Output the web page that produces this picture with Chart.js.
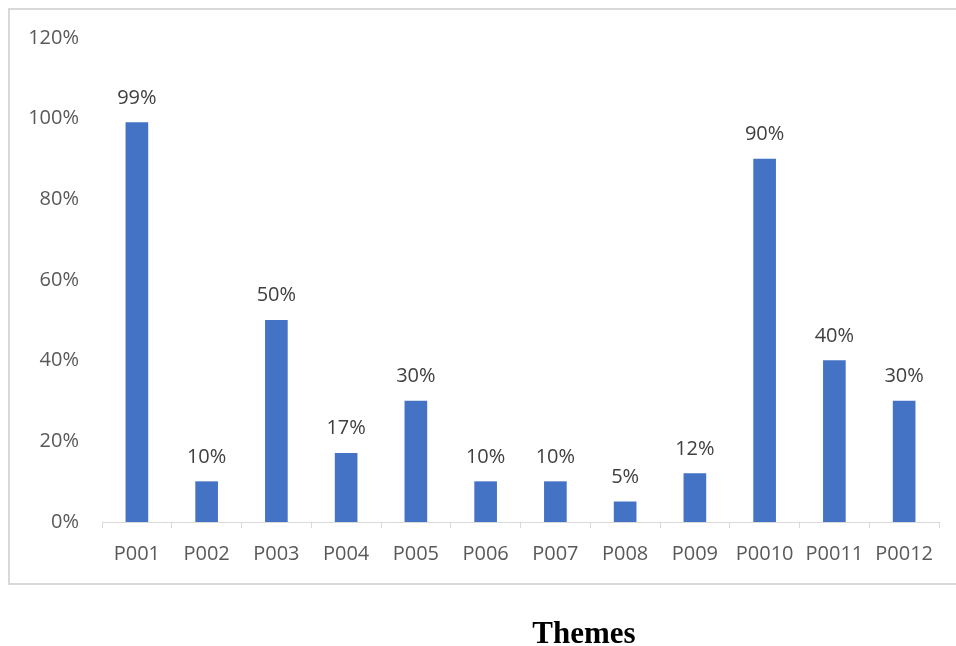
<!DOCTYPE html>
<html>
<head>
<meta charset="utf-8">
<script src="https://cdn.jsdelivr.net/npm/chart.js@4/dist/chart.umd.min.js"></script>
<style>
  html, body { margin: 0; padding: 0; background: #ffffff; }
  #wrap { width: 956px; height: 646px; }
</style>
</head>
<body>
<div id="wrap"><canvas id="chart" width="956" height="646"></canvas></div>
<script>
// Theme codes and the share (%) recorded for each
const categories = ['P001', 'P002', 'P003', 'P004', 'P005', 'P006', 'P007', 'P008', 'P009', 'P0010', 'P0011', 'P0012'];
const shares = [99, 10, 50, 17, 30, 10, 10, 5, 12, 90, 40, 30];
const yTicks = [0, 20, 40, 60, 80, 100, 120];
const axisTitle = 'Themes';

const FONT = '"Open Sans", "Noto Sans", sans-serif';

// Frame around the chart, value labels above bars, and the axis title below
const decorations = {
  id: 'decorations',
  beforeDraw(chart) {
    const ctx = chart.ctx;
    ctx.save();
    ctx.strokeStyle = '#d9d9d9';
    ctx.lineWidth = 2;
    ctx.beginPath();
    ctx.moveTo(956, 9);
    ctx.lineTo(9, 9);
    ctx.lineTo(9, 584);
    ctx.lineTo(956, 584);
    ctx.stroke();
    ctx.restore();
  },
  afterDatasetsDraw(chart) {
    const ctx = chart.ctx;
    const meta = chart.getDatasetMeta(0);
    ctx.save();
    ctx.font = '20px ' + FONT;
    ctx.fillStyle = '#404040';
    ctx.textAlign = 'center';
    ctx.textBaseline = 'alphabetic';
    meta.data.forEach((bar, i) => {
      ctx.fillText(shares[i] + '%', bar.x, bar.y - 19);
    });
    ctx.font = 'bold 31px "Liberation Serif", "Times New Roman", serif';
    ctx.fillStyle = '#000000';
    ctx.fillText(axisTitle, 584, 643);
    ctx.restore();
  }
};

new Chart(document.getElementById('chart'), {
  type: 'bar',
  data: {
    labels: categories,
    datasets: [{
      data: shares,
      backgroundColor: '#4472c4',
      borderWidth: 0,
      barThickness: 22
    }]
  },
  options: {
    responsive: false,
    animation: false,
    devicePixelRatio: 1,
    layout: { padding: { top: 38, right: 17, left: 0, bottom: 0 } },
    plugins: {
      legend: { display: false },
      tooltip: { enabled: false }
    },
    scales: {
      x: {
        offset: true,
        grid: {
          display: true,
          drawOnChartArea: false,
          drawTicks: true,
          tickLength: 6,
          color: '#d9d9d9',
          offset: true
        },
        border: { display: true, color: '#d9d9d9', width: 1 },
        ticks: {
          color: '#595959',
          font: { family: FONT, size: 20 },
          padding: 14,
          maxRotation: 0,
          autoSkip: false
        },
        afterFit(scale) { scale.height = 124; }
      },
      y: {
        min: 0,
        max: 120,
        afterBuildTicks(scale) { scale.ticks = yTicks.map(v => ({ value: v })); },
        grid: { display: false, drawTicks: false },
        border: { display: false },
        ticks: {
          color: '#595959',
          font: { family: FONT, size: 20 },
          padding: 23,
          callback: v => v + '%'
        },
        afterFit(scale) { scale.width = 102; }
      }
    }
  },
  plugins: [decorations]
});
</script>
</body>
</html>
